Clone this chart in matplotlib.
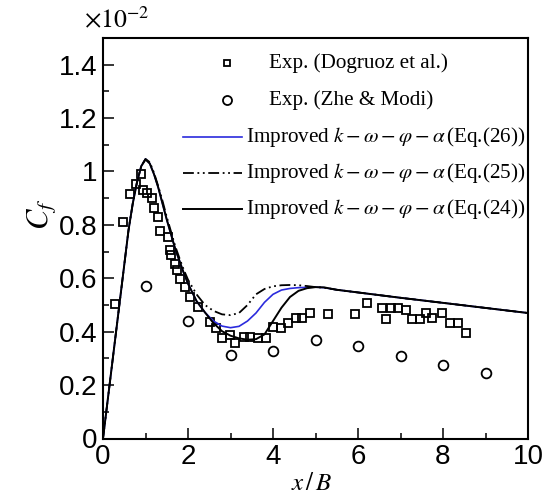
import numpy as np
import matplotlib.pyplot as plt
from matplotlib.ticker import MultipleLocator, FormatStrFormatter

plt.rcParams['font.family'] = 'Liberation Sans'
plt.rcParams['mathtext.fontset'] = 'stix'

# Skin friction coefficient, values in units of 1e-2
x_dogruoz = [0.28, 0.48, 0.64, 0.77, 0.89, 0.93, 1.04, 1.15, 1.20, 1.30, 1.34, 1.52,
             1.58, 1.60, 1.69, 1.75, 1.81, 1.93, 2.05, 2.24, 2.52, 2.67, 2.81, 2.99,
             3.11, 3.32, 3.47, 3.65, 3.84, 4.01, 4.19, 4.36, 4.53, 4.69, 4.87, 5.30,
             5.93, 6.22, 6.57, 6.67, 6.77, 6.95, 7.12, 7.28, 7.47, 7.61, 7.75, 7.98,
             8.16, 8.36, 8.54]
cf_dogruoz = [0.503, 0.81, 0.917, 0.954, 0.989, 0.93, 0.92, 0.90, 0.864, 0.83, 0.776, 0.754,
              0.705, 0.686, 0.655, 0.632, 0.599, 0.567, 0.53, 0.493, 0.437, 0.412, 0.378, 0.387,
              0.358, 0.38, 0.38, 0.377, 0.377, 0.416, 0.414, 0.433, 0.452, 0.452, 0.47, 0.468,
              0.468, 0.508, 0.487, 0.449, 0.487, 0.489, 0.483, 0.447, 0.447, 0.47, 0.452, 0.47,
              0.433, 0.433, 0.396]

x_zhe = [1, 2, 3, 4, 5, 6, 7, 8, 9]
cf_zhe = [0.57, 0.44, 0.312, 0.328, 0.368, 0.345, 0.308, 0.277, 0.246]

x_model = [0, 0.2, 0.4, 0.6, 0.7, 0.8, 0.9, 1.0, 1.1, 1.2, 1.3, 1.4, 1.5, 1.6, 1.7,
           1.8, 1.9, 2.0, 2.2, 2.4, 2.6, 2.8, 3.0, 3.2, 3.4, 3.6, 3.8, 4.0, 4.2, 4.4,
           4.6, 4.8, 5.0, 5.2, 5.5, 6.0, 7.0, 8.0, 9.0, 10.0]
cf_eq26 = [0, 0.26, 0.52, 0.78, 0.88, 0.96, 1.02, 1.047, 1.03, 0.99, 0.94, 0.88, 0.82, 0.765, 0.71,
           0.665, 0.62, 0.58, 0.515, 0.472, 0.44, 0.421, 0.415, 0.42, 0.44, 0.47, 0.51, 0.54, 0.556, 0.562,
           0.565, 0.566, 0.567, 0.565, 0.557, 0.547, 0.527, 0.508, 0.489, 0.47]
cf_eq25 = [0, 0.26, 0.52, 0.78, 0.88, 0.96, 1.02, 1.047, 1.035, 0.995, 0.945, 0.89, 0.83, 0.775, 0.72,
           0.675, 0.632, 0.595, 0.54, 0.50, 0.478, 0.465, 0.462, 0.47, 0.50, 0.54, 0.56, 0.57, 0.574, 0.575,
           0.574, 0.571, 0.567, 0.565, 0.557, 0.547, 0.527, 0.508, 0.489, 0.47]
cf_eq24 = [0, 0.26, 0.52, 0.78, 0.88, 0.96, 1.02, 1.045, 1.03, 0.99, 0.94, 0.88, 0.82, 0.765, 0.71,
           0.665, 0.62, 0.58, 0.515, 0.472, 0.432, 0.402, 0.385, 0.375, 0.37, 0.372, 0.39, 0.44, 0.49, 0.53,
           0.553, 0.563, 0.567, 0.566, 0.557, 0.547, 0.527, 0.508, 0.489, 0.47]

fig = plt.figure(figsize=(5.45, 4.97), dpi=100)
ax = fig.add_axes([103 / 545, 1 - 438.5 / 497, 425 / 545, 400.5 / 497])

ax.plot(x_dogruoz, cf_dogruoz, ls='none', marker='s', ms=5.8, mfc='none', mec='black', mew=1.3)
ax.plot(x_zhe, cf_zhe, ls='none', marker='o', ms=7, mfc='none', mec='black', mew=1.3)
ax.plot(x_model, cf_eq26, color='#2b2bdd', lw=1.2)
ax.plot(x_model, cf_eq25, color='black', lw=1.3, dashes=[6, 2, 1, 2, 1, 2])
ax.plot(x_model, cf_eq24, color='black', lw=1.4)

ax.set_xlim(0, 10)
ax.set_ylim(0, 1.5)
ax.xaxis.set_major_locator(MultipleLocator(2))
ax.xaxis.set_minor_locator(MultipleLocator(1))
ax.yaxis.set_major_locator(MultipleLocator(0.2))
ax.yaxis.set_minor_locator(MultipleLocator(0.1))
ax.yaxis.set_major_formatter(FormatStrFormatter('%g'))
ax.tick_params(which='both', direction='in', top=False, right=False, width=1.1,
               labelsize=20, pad=4)
ax.tick_params(which='major', length=8)
ax.tick_params(which='minor', length=4.5)
for s in ax.spines.values():
    s.set_linewidth(1.5)

ax.text(-0.145, 0.56, r'$C_f$', transform=ax.transAxes, fontsize=22, rotation=90,
        ha='center', va='center')
ax.text(0.49, -0.11, r'$x\,/\,B$', transform=ax.transAxes, fontsize=18,
        ha='center', va='center')
ax.text(-0.045, 1.012, r'$\times 10^{-2}$', transform=ax.transAxes, fontsize=18.5,
        ha='left', va='bottom')

# legend drawn by hand so marker rows and line rows can be offset
rows_y = [0.9375, 0.845, 0.7528, 0.663, 0.573]
leg_kw = dict(transform=ax.transAxes, clip_on=False)
txt_kw = dict(transform=ax.transAxes, fontsize=15.2, family='Liberation Serif',
              va='center', ha='left')
ax.plot([0.292], [rows_y[0]], marker='s', ms=5, mfc='none', mec='black', mew=1.3, **leg_kw)
ax.text(0.3906, rows_y[0], 'Exp. (Dogruoz et al.)', **txt_kw)
ax.plot([0.292], [rows_y[1]], marker='o', ms=6.5, mfc='none', mec='black', mew=1.3, **leg_kw)
ax.text(0.3906, rows_y[1], 'Exp. (Zhe & Modi)', **txt_kw)

model_label = r'Improved $k-\omega-\varphi-\alpha\,$(Eq.({}))'
ax.plot([0.188, 0.327], [rows_y[2]] * 2, color='#2b2bdd', lw=1.2, **leg_kw)
ax.text(0.3365, rows_y[2], model_label.format(26), **txt_kw)
ax.plot([0.188, 0.327], [rows_y[3]] * 2, color='black', lw=1.3, dashes=[6, 2, 1, 2, 1, 2], **leg_kw)
ax.text(0.3365, rows_y[3], model_label.format(25), **txt_kw)
ax.plot([0.188, 0.327], [rows_y[4]] * 2, color='black', lw=1.4, **leg_kw)
ax.text(0.3365, rows_y[4], model_label.format(24), **txt_kw)

fig.savefig('out.png', dpi=100)
